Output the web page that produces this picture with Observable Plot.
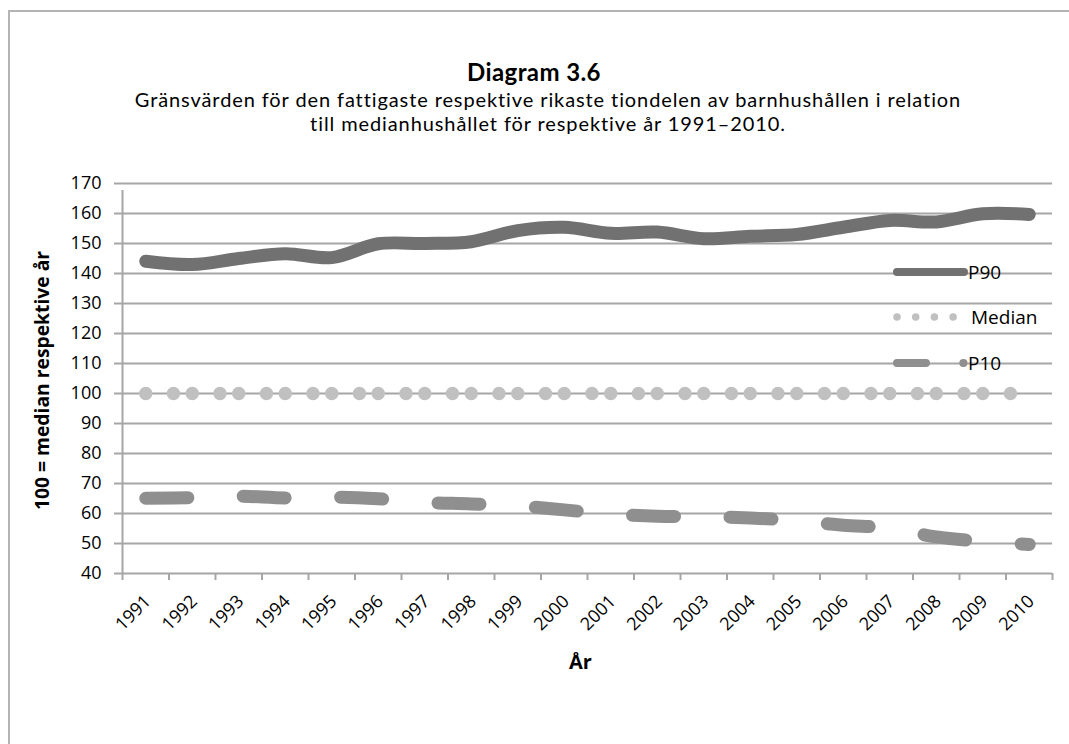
<!DOCTYPE html>
<html><head><meta charset="utf-8">
<script src="https://cdn.jsdelivr.net/npm/d3@7"></script>
<script src="https://cdn.jsdelivr.net/npm/@observablehq/plot@0.6"></script>
<style>
body{margin:0;background:#fff;font-family:"Open Sans",Lato,sans-serif;color:#000;}
#wrap{position:relative;width:1069px;height:744px;overflow:hidden;}
#frame{position:absolute;left:8px;top:10px;width:1200px;height:900px;border-top:2px solid #b4b4b4;border-left:2px solid #b4b4b4;}
#title{position:absolute;left:0;width:1068px;top:59px;line-height:26px;text-align:center;font-family:Lato,sans-serif;font-weight:bold;font-size:24px;letter-spacing:0.4px;}
.sub{position:absolute;left:0;width:1096px;line-height:24px;text-align:center;font-family:Lato,sans-serif;font-size:20px;letter-spacing:0.9px;}
#chart{position:absolute;left:0;top:0;}
#legend{position:absolute;left:0;top:0;}
</style></head>
<body>
<div id="wrap">
  <div id="frame"></div>
  <div id="chart"></div>
  <div id="title">Diagram 3.6</div>
  <div class="sub" style="top:86.5px">Gränsvärden för den fattigaste respektive rikaste tiondelen av barnhushållen i relation</div>
  <div class="sub" style="top:110.5px">till medianhushållet för respektive år 1991–2010.</div>
  <svg id="legend" width="1069" height="744"></svg>
</div>
<script>
const years = [1991,1992,1993,1994,1995,1996,1997,1998,1999,2000,2001,2002,2003,2004,2005,2006,2007,2008,2009,2010];
const p90 = [144.1,143.0,145.0,146.6,145.3,149.9,150.0,150.6,154.3,155.4,153.4,153.8,151.6,152.4,153.0,155.4,157.7,157.2,159.9,159.7];
const median = [100,100,100,100,100,100,100,100,100,100,100,100,100,100,100,100,100,100,100,100];
const p10 = [65.1,65.3,65.8,65.2,65.5,64.9,63.7,63.2,62.5,61.2,59.8,59.1,59.0,58.5,57.6,56.1,55.1,52.2,50.7,49.7];
const yTicks = [40,50,60,70,80,90,100,110,120,130,140,150,160,170];
const seriesNames = ["P90","Median","P10"];
const xLabel = "År";
const yLabel = "100 = median respektive år";

const FONT = "'Open Sans', Lato, sans-serif";
const colP90 = "#717171", colMed = "#c0c0c0", colP10 = "#8f8f8f", grid = "#a6a6a6";

const rows90 = years.map((y,i)=>({year:y, v:p90[i]}));
const rows10 = years.map((y,i)=>({year:y, v:p10[i]}));
const medSegs = years.slice(0,-1).map((y,i)=>({x1:y, x2:years[i+1], y1:median[i], y2:median[i+1]}));
const bounds = years.map(y=>y-0.5).concat([years[years.length-1]+0.5]);

const plot = Plot.plot({
  width:1069, height:744,
  marginLeft:122, marginRight:17, marginTop:183, marginBottom:171,
  style:{fontFamily:FONT, fontSize:"18px", background:"transparent", color:"#000"},
  x:{type:"linear", domain:[years[0]-0.5, years[years.length-1]+0.5]},
  y:{domain:[40,170]},
  marks:[
    Plot.ruleY(yTicks, {stroke:grid, strokeWidth:2}),
    Plot.ruleX([bounds[0]], {stroke:grid, strokeWidth:2, y1:40, y2:170, insetBottom:-7}),
    Plot.axisX({ticks:bounds, tickSize:7, tickFormat:()=>"", stroke:grid, strokeWidth:2, label:null}),
    Plot.axisY({ticks:yTicks, tickSize:8, tickPadding:13, stroke:grid, strokeWidth:2, label:null, fontSize:18}),
    Plot.text(years, {x:d=>d, frameAnchor:"bottom", dx:6, dy:29, rotate:-45, textAnchor:"end", text:d=>String(d), fontSize:18}),
    Plot.text([xLabel], {frameAnchor:"bottom", dx:-7, dy:95, fontWeight:"bold", fontSize:20}),
    Plot.text([yLabel], {frameAnchor:"left", textAnchor:"middle", dx:-80, dy:2, rotate:-90, fontWeight:"bold", fontSize:19.3}),
    Plot.link(medSegs, {x1:"x1", x2:"x2", y1:"y1", y2:"y2", stroke:colMed, strokeWidth:13.5, strokeDasharray:"0 27.7", strokeLinecap:"round"}),
    Plot.line(rows10, {x:"year", y:"v", curve:"catmull-rom", stroke:colP10, strokeWidth:13, strokeDasharray:"42 55.5", strokeLinecap:"round"}),
    Plot.line(rows90, {x:"year", y:"v", curve:"catmull-rom", stroke:colP90, strokeWidth:13, strokeLinecap:"round", strokeLinejoin:"round"})
  ]
});
document.getElementById("chart").appendChild(plot);

// legend overlay
const lg = d3.select("#legend");
const items = [
  {name:seriesNames[0], y:272, draw:(g)=>g.append("line").attr("x1",897).attr("x2",964).attr("y1",272).attr("y2",272).attr("stroke",colP90).attr("stroke-width",8).attr("stroke-linecap","round")},
  {name:seriesNames[1], y:317, draw:(g)=>g.append("line").attr("x1",897).attr("x2",964).attr("y1",317).attr("y2",317).attr("stroke",colMed).attr("stroke-width",7.5).attr("stroke-linecap","round").attr("stroke-dasharray","0 18.7")},
  {name:seriesNames[2], y:363, draw:(g)=>g.append("line").attr("x1",897).attr("x2",963.5).attr("y1",363).attr("y2",363).attr("stroke",colP10).attr("stroke-width",8).attr("stroke-linecap","round").attr("stroke-dasharray","29 37.3")}
];
items.forEach(it=>{
  const g = lg.append("g");
  it.draw(g);
  g.append("text").attr("x", it.name==="Median"?971:968).attr("y", it.y).attr("dy","0.35em")
   .attr("font-family",FONT).attr("font-size",19).text(it.name);
});
</script>
</body></html>
